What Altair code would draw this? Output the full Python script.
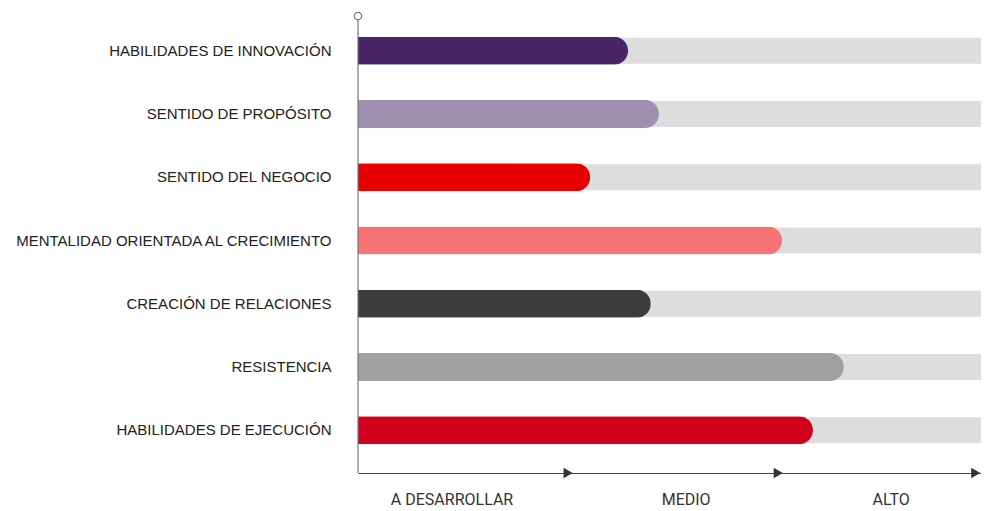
import altair as alt
import pandas as pd

categories = [
    "HABILIDADES DE INNOVACIÓN",
    "SENTIDO DE PROPÓSITO",
    "SENTIDO DEL NEGOCIO",
    "MENTALIDAD ORIENTADA AL CRECIMIENTO",
    "CREACIÓN DE RELACIONES",
    "RESISTENCIA",
    "HABILIDADES DE EJECUCIÓN",
]
values = [42.8, 47.7, 36.8, 67.2, 46.4, 77.0, 72.1]
colors = ["#4a2466", "#a08fb0", "#e60000", "#f87374", "#3c3c3c", "#a0a0a0", "#d0021b"]
track_max = 100

level_labels = ["A DESARROLLAR", "MEDIO", "ALTO"]
level_label_pos = [14.9, 52.0, 84.5]
arrow_pos = [33.3, 66.6, 97.9]

df = pd.DataFrame({"cat": categories, "value": values, "color": colors, "track": [track_max] * len(categories)})
levels = pd.DataFrame({"label": level_labels, "pos": level_label_pos})
arrows = pd.DataFrame({"pos": arrow_pos})

xscale = alt.Scale(domain=[0, 100], range=[0, 631], nice=False, zero=True)
yscale = alt.Scale(domain=categories, range=[5, 448], paddingInner=0, paddingOuter=0)

H = 459

base = alt.Chart(df)

track = base.mark_bar(height=26, color="#dddddd", clip=False).encode(
    x=alt.X("track:Q", scale=xscale, axis=alt.Axis(domain=True, domainColor="#444444", domainWidth=1.2,
                                                    ticks=False, labels=False, grid=False, title=None)),
    y=alt.Y("cat:N", scale=yscale, sort=categories,
            axis=alt.Axis(domain=False, ticks=False, labelPadding=27, labelFont="Liberation Sans",
                          labelFontSize=15, labelColor="#222222", title=None, labelLimit=400)),
)

bars = base.mark_bar(height=28, cornerRadiusEnd=14, clip=False).encode(
    x=alt.X("value:Q", scale=xscale),
    y=alt.Y("cat:N", scale=yscale, sort=categories),
    color=alt.Color("color:N", scale=None, legend=None),
)

vline = alt.Chart(pd.DataFrame({"x": [0]})).mark_rule(color="#777777", strokeWidth=1.2).encode(
    x=alt.X("x:Q", scale=xscale), y=alt.value(6), y2=alt.value(H)
)
circle = alt.Chart(pd.DataFrame({"x": [0]})).mark_point(
    shape="circle", size=55, filled=True, fill="white", stroke="#777777", strokeWidth=1.2, opacity=1
).encode(x=alt.X("x:Q", scale=xscale), y=alt.value(2))

arrow_marks = alt.Chart(arrows).mark_point(
    shape="triangle-right", size=110, filled=True, color="#333333", opacity=1, clip=False
).encode(x=alt.X("pos:Q", scale=xscale), y=alt.value(H))

level_text = alt.Chart(levels).mark_text(
    font="Roboto", fontSize=16, color="#333333", baseline="alphabetic", clip=False
).encode(x=alt.X("pos:Q", scale=xscale), y=alt.value(H + 32), text="label:N")

chart = alt.layer(track, bars, vline, circle, arrow_marks, level_text).properties(
    width=623, height=H,
    autosize=alt.AutoSizeParams(type="none"),
    padding={"left": 350, "top": 6, "right": 0, "bottom": 38},
).configure_view(stroke=None)

chart.save("out.html", embed_options={"renderer": "svg", "actions": False})
